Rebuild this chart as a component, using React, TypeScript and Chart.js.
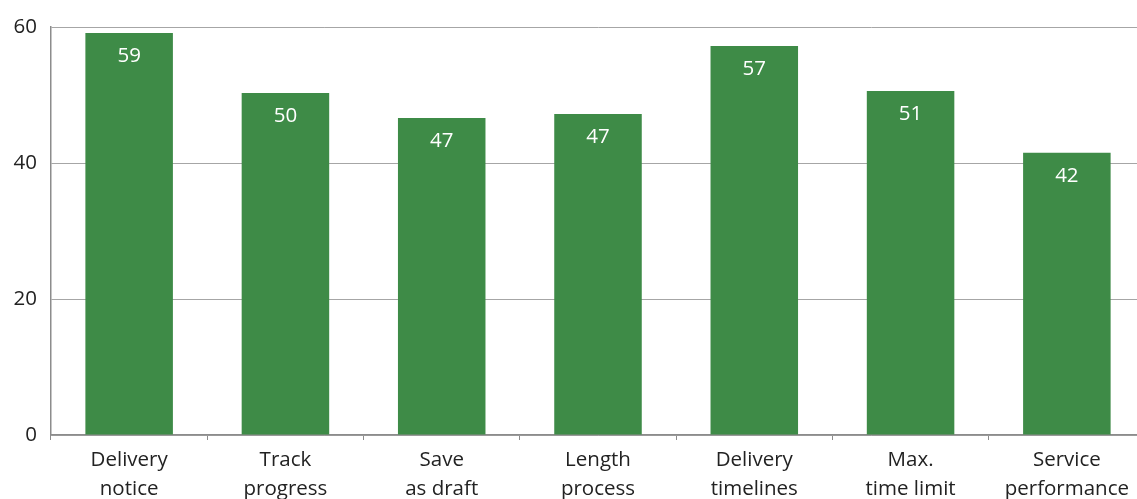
import React, { useEffect, useRef } from "react";
import { Chart, registerables } from "chart.js";

Chart.register(...registerables);

const categories: string[][] = [
  ["Delivery", "notice"],
  ["Track", "progress"],
  ["Save", "as draft"],
  ["Length", "process"],
  ["Delivery", "timelines"],
  ["Max.", "time limit"],
  ["Service", "performance"],
];
const values: number[] = [59.1, 50.3, 46.6, 47.2, 57.2, 50.6, 41.5];
const valueLabels: string[] = ["59", "50", "47", "47", "57", "51", "42"];
const yTicks: number[] = [0, 20, 40, 60];

const FONT = "'Open Sans', 'DejaVu Sans', sans-serif";

const valueLabelPlugin = {
  id: "valueLabels",
  afterDatasetsDraw(chart: any) {
    const ctx = chart.ctx;
    const meta = chart.getDatasetMeta(0);
    ctx.save();
    ctx.fillStyle = "#ffffff";
    ctx.font = `20.5px ${FONT}`;
    ctx.textAlign = "center";
    ctx.textBaseline = "middle";
    meta.data.forEach((bar: any, i: number) => {
      ctx.fillText(valueLabels[i], bar.x, bar.y + 23);
    });
    ctx.restore();
  },
};

export default function App() {
  const ref = useRef<HTMLCanvasElement | null>(null);
  useEffect(() => {
    if (!ref.current) return;
    const chart = new Chart(ref.current, {
      type: "bar",
      data: {
        labels: categories,
        datasets: [
          {
            data: values,
            backgroundColor: "#3e8b47",
            borderWidth: 0,
            barPercentage: 0.56,
            categoryPercentage: 1,
          },
        ],
      },
      options: {
        animation: false,
        responsive: false,
        maintainAspectRatio: false,
        layout: { autoPadding: false, padding: { top: 27, right: 0, left: 0, bottom: 0 } },
        plugins: { legend: { display: false }, tooltip: { enabled: false } },
        scales: {
          x: {
            grid: {
              drawOnChartArea: false,
              drawTicks: true,
              tickLength: 5,
              color: "#8c8c8c",
              offset: true,
            },
            border: { color: "#8c8c8c", width: 1.5 },
            ticks: {
              color: "#222222",
              font: { family: FONT, size: 20.5, lineHeight: 1.4 },
              padding: 6,
              maxRotation: 0,
              autoSkip: false,
            },
            afterFit(scale: any) {
              scale.height = 64;
            },
          },
          y: {
            min: 0,
            max: 60,
            afterBuildTicks(scale: any) {
              scale.ticks = yTicks.map((v) => ({ value: v }));
            },
            grid: {
              color: "#a6a6a6",
              drawTicks: false,
              lineWidth: 1,
            },
            border: { color: "#8c8c8c", width: 1.5 },
            ticks: {
              color: "#222222",
              font: { family: FONT, size: 20.5 },
              padding: 14,
            },
            afterFit(scale: any) {
              scale.width = 51;
            },
          },
        },
      },
      plugins: [valueLabelPlugin],
    });
    return () => chart.destroy();
  }, []);
  return (
    <div style={{ position: "fixed", left: 0, top: 0, width: 1137, height: 499, overflow: "hidden", background: "#fff" }}>
      <canvas ref={ref} width={1145} height={499} style={{ display: "block" }} />
    </div>
  );
}
